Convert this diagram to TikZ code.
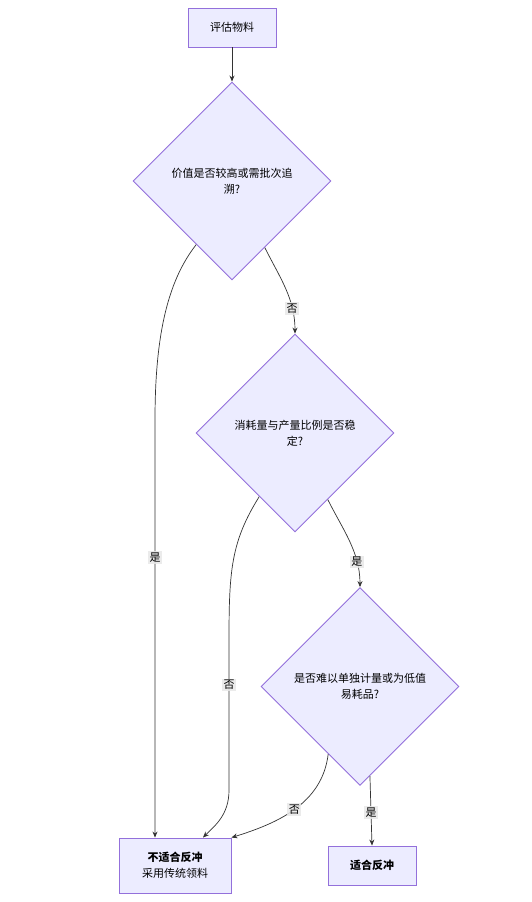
\documentclass[tikz,border=0pt]{standalone}
\usepackage{fontspec}
\setmainfont{Noto Sans CJK SC}
\usepackage{xcolor}
\usepackage{tikz}
\usetikzlibrary{shapes.geometric,arrows.meta,positioning,calc}

\definecolor{nodefill}{HTML}{ECECFF}
\definecolor{nodeline}{HTML}{9370DB}
\definecolor{edgeline}{HTML}{333333}
\definecolor{lblfill}{HTML}{E8E8E8}

\tikzset{
  box/.style={draw=nodeline, fill=nodefill, line width=0.9pt, align=center,
    font=\fontsize{11pt}{16pt}\selectfont},
  decision/.style={diamond, aspect=1, draw=nodeline, fill=nodefill, line width=0.9pt,
    minimum width=198pt, minimum height=198pt, inner sep=0pt, align=center,
    font=\fontsize{11pt}{16pt}\selectfont},
  flow/.style={draw=edgeline, line width=0.7pt, -{Stealth[length=6pt,width=5pt]}},
  lbl/.style={fill=lblfill, fill opacity=0.85, text opacity=1, inner sep=1.5pt,
    font=\fontsize{11pt}{13pt}\selectfont}
}

\begin{document}
\begin{tikzpicture}[x=1pt,y=-1pt]
  \useasboundingbox (0,0) rectangle (531,902);

  % nodes
  \node[box, minimum width=88pt, minimum height=39pt] (eval) at (232,27.5) {评估物料};
  \node[decision] (value) at (232,181) {价值是否较高或需批次追\\溯?};
  \node[decision] (ratio) at (295,433) {消耗量与产量比例是否稳\\定?};
  \node[decision] (meter) at (360,686.5) {是否难以单独计量或为低值\\易耗品?};
  \node[box, minimum width=112pt, minimum height=55pt] (nofit) at (175,865.5)
    {\textbf{不适合反冲}\\采用传统领料};
  \node[box, minimum width=88pt, minimum height=39pt] (fit) at (372,865.5) {\textbf{适合反冲}};

  % connectors
  \draw[flow] (eval) -- (value);
  \draw[flow] ($(value.south)!0.33!(value.east)$)
    .. controls +(15,30) and +(0,-35) .. node[lbl, pos=0.74] {否} (ratio.north);
  \draw[flow] ($(value.south)!0.36!(value.west)$)
    .. controls +(-30,38) and +(0,-80) .. (155,420)
    -- node[lbl, pos=0.33] {是} (nofit.north -| 155,0);
  \draw[flow] ($(ratio.south)!0.33!(ratio.east)$)
    .. controls +(15,30) and +(0,-35) .. node[lbl, pos=0.74] {是} (meter.north);
  \draw[flow] ($(ratio.south)!0.36!(ratio.west)$)
    .. controls +(-28,45) and +(0,-70) .. (229,640)
    -- node[lbl, pos=0.3] {否} (229,790)
    .. controls +(0,25) and +(12,-12) .. (nofit.north -| 203,0);
  \draw[flow] ($(meter.south)!0.32!(meter.west)$)
    .. controls +(-6,50) and +(45,-14) .. node[lbl, pos=0.5] {否} (nofit.north east);
  \draw[flow] ($(meter.south)!0.1!(meter.east)$)
    -- node[lbl, pos=0.52] {是} (fit.north);
\end{tikzpicture}
\end{document}
